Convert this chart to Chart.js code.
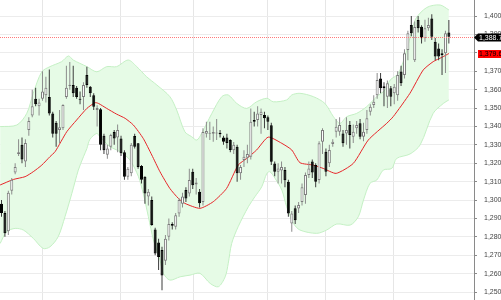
<!DOCTYPE html>
<html>
<head>
<meta charset="utf-8">
<script src="https://cdn.jsdelivr.net/npm/chart.js@4.4.1/dist/chart.umd.min.js"></script>
<style>
  html, body { margin: 0; padding: 0; background: #fff; }
</style>
</head>
<body>
<canvas id="chart" width="501" height="300"></canvas>
<script>
// daily bars, index = bar number
const opens = [
  1298, 1293, 1283, 1305, 1315, 1325, 1330, 1321, 1338, 1346,
  1355, 1351, 1355, 1357, 1356, 1347, 1342, 1338, 1339, 1356,
  1362, 1362.5, 1361, 1355, 1356, 1368, 1361.6, 1357, 1349, 1349.3,
  1335, 1324.6, 1329, 1337, 1334, 1333.5, 1326, 1312.7, 1314.5, 1334.8,
  1330.8, 1318.5, 1312.7, 1302, 1300, 1284, 1277, 1272.8, 1267, 1280,
  1287, 1285.5, 1292.7, 1298, 1305.4, 1303.6, 1315.4, 1308.5, 1304.5, 1299,
  1336, 1336, 1336, 1336.2, 1336.6, 1334, 1334, 1332.6, 1327, 1329,
  1314.5, 1321.7, 1323, 1323.5, 1343.5, 1343.5, 1346.2, 1346.2, 1345, 1340.7,
  1319.9, 1315.4, 1316, 1316.3, 1310, 1287.3, 1295.5, 1295.4, 1299, 1302.7,
  1313.6, 1321, 1319, 1310.9, 1331.7, 1326.3, 1320, 1330.4, 1337.1, 1337.1,
  1336.2, 1336.2, 1340.8, 1334.4, 1339, 1341.7, 1334.4, 1338, 1348, 1351.7,
  1357, 1366.1, 1361.9, 1356.2, 1360.7, 1358, 1357, 1369.8, 1368, 1381.5,
  1395.1, 1376, 1397.8, 1394.2, 1387.9, 1393.3, 1398.7, 1386, 1382.4, 1379.7,
  1379.7, 1391.1
];
const highs = [
  1300, 1294, 1305, 1312, 1320, 1333, 1334, 1333, 1345, 1360,
  1361, 1355, 1370, 1367, 1371, 1348, 1343, 1349, 1352, 1373,
  1375, 1373, 1362, 1359, 1364, 1372.5, 1362, 1358, 1351.5, 1350,
  1336, 1330, 1336, 1338, 1341, 1335, 1327, 1318, 1331, 1336,
  1331, 1319, 1313, 1306, 1302, 1285, 1279, 1274.6, 1281, 1290,
  1288, 1293, 1301, 1304, 1307, 1317, 1317, 1312, 1306, 1339,
  1342.5, 1342.5, 1340, 1344, 1338, 1335, 1336, 1333, 1331.5, 1330,
  1319, 1327, 1330, 1349.8, 1348, 1351, 1349.8, 1348, 1346, 1342,
  1321, 1320, 1321, 1318, 1311, 1294, 1297, 1299, 1309, 1315,
  1321, 1322, 1320, 1332, 1339, 1328, 1330, 1333, 1344, 1345,
  1338, 1345, 1343, 1341, 1343, 1344, 1342, 1349, 1352, 1357,
  1369, 1369, 1364, 1365, 1362, 1363, 1370, 1373, 1382, 1392,
  1400, 1397, 1400, 1395, 1398, 1399, 1401, 1388, 1385, 1382,
  1392, 1397.8
];
const lows = [
  1291, 1280, 1281, 1303, 1314, 1324, 1320, 1318, 1335, 1345,
  1351, 1346, 1354, 1353, 1346, 1334, 1329, 1331, 1338, 1355,
  1360, 1356, 1355, 1352, 1349, 1361, 1356, 1349, 1340, 1327,
  1325, 1322.5, 1327, 1330, 1326, 1324, 1311, 1311, 1313, 1328,
  1317, 1309, 1298, 1297, 1286, 1270, 1262, 1251, 1264.7, 1278,
  1284, 1284, 1291, 1296, 1299, 1302, 1306, 1303, 1296, 1297,
  1334, 1332.6, 1331.7, 1332.6, 1334, 1330, 1328, 1326, 1325, 1309.9,
  1311, 1318, 1320, 1322, 1340, 1340, 1336, 1339, 1338, 1319,
  1313, 1309, 1309, 1307, 1291, 1282.8, 1287, 1293, 1297, 1298,
  1312, 1312, 1307, 1309, 1325, 1313, 1318, 1329, 1334, 1335,
  1329, 1330, 1328, 1331, 1336, 1333, 1332, 1336, 1346, 1350,
  1355, 1358, 1351, 1350, 1351, 1352, 1354, 1362, 1366, 1376,
  1389, 1375, 1391, 1385, 1386, 1392, 1387, 1376, 1376, 1368,
  1369, 1385
];
const closes = [
  1293, 1282, 1304, 1311, 1318, 1326, 1322, 1331, 1343, 1351,
  1352, 1353, 1359, 1361, 1347, 1336, 1336, 1339.5, 1351.6, 1361,
  1362.6, 1358, 1356, 1354.5, 1362.5, 1362.5, 1358, 1350.7, 1350, 1330,
  1327, 1328, 1335.3, 1333.5, 1338, 1325.4, 1312.7, 1317, 1330, 1329,
  1318, 1311, 1303.6, 1304.5, 1286.5, 1271, 1269, 1259, 1279, 1287,
  1286, 1291.8, 1300, 1302, 1300.9, 1310.9, 1308.1, 1309.5, 1298.2, 1337,
  1337.5, 1336.5, 1337, 1336.4, 1335.7, 1331.7, 1331, 1327.2, 1330, 1314.5,
  1318, 1323.5, 1325, 1342.5, 1342.5, 1347, 1348, 1344.4, 1342.5, 1320.8,
  1315.4, 1317.2, 1318, 1310.8, 1292.7, 1292.7, 1289, 1297.3, 1307, 1313.6,
  1317.2, 1315, 1310, 1330.8, 1338.1, 1315.4, 1327.2, 1331.7, 1339.9, 1340.8,
  1330.8, 1338, 1335.3, 1337.1, 1340.8, 1334.4, 1337.1, 1344.4, 1350.7, 1353.4,
  1365.2, 1360.7, 1360.7, 1363.4, 1356.2, 1361.6, 1368, 1363.4, 1379.7, 1390.6,
  1390.6, 1394, 1393.3, 1387.9, 1393.3, 1395.1, 1388.8, 1378, 1378, 1378.8,
  1390.6, 1388.7
];

// moving average (red) at bar positions
const maX = [-0.4, 3.5, 6.9, 9.3, 11.8, 14.2, 15.7, 19.1, 22.0, 25.0, 27.4, 28.4, 30.8, 33.7, 36.2,
  38.6, 41.5, 44.0, 46.4, 49.3, 51.8, 53.7, 58.1, 62.0, 65.9, 69.3, 71.8, 74.7, 78.1, 82.1, 85.0,
  87.4, 91.3, 94.2, 98.0, 103.0, 107.4, 112.8, 114.7, 119.6, 123.5, 126.4, 128.9, 131];
const maY = [1308.2, 1311.2, 1312.7, 1315.4, 1319.0, 1323.6, 1326.3, 1337.1, 1343.5, 1349.8, 1352.9,
  1352.5, 1349.8, 1346.7, 1344.4, 1340.8, 1333.5, 1324.5, 1315.4, 1306.3, 1300.9, 1298.2, 1295.5,
  1299.1, 1306.3, 1319.0, 1322.6, 1327.2, 1334.2, 1330.8, 1327.2, 1320.3, 1319.0, 1317.2, 1314.5,
  1319.9, 1332.6, 1341.7, 1345.3, 1358.0, 1370.7, 1375.2, 1377.5, 1379.6];

// bollinger envelope
const upperX = [-0.4, 4.5, 7.4, 9.3, 11.8, 14.2, 17.6, 19.6, 21.0, 25.0, 27.9, 30.8, 33.7, 37.1, 39.6,
  42.5, 45.5, 49.3, 51.3, 53.7, 55.7, 57.2, 58.6, 61.6, 64.5, 66.4, 68.9, 71.8, 74.7, 77.7, 79.6,
  83.5, 85.0, 87.4, 91.3, 94.7, 97.2, 99.1, 101.1, 104.0, 106.9, 109.9, 112.3, 113.8, 116.2, 118.7,
  121.1, 124.5, 128.4, 131];
const upperY = [1339.9, 1340.8, 1347.1, 1358.0, 1369.7, 1372.5, 1375.2, 1378.3, 1376.1, 1372.5, 1369.7,
  1372.5, 1372.5, 1376.1, 1372.5, 1367.0, 1362.5, 1356.2, 1348.9, 1337.1, 1334.4, 1332.6, 1336.2,
  1347.1, 1356.2, 1357.1, 1352.5, 1349.8, 1353.4, 1355.3, 1353.4, 1354.4, 1357.1, 1358.0, 1356.2,
  1352.5, 1345.3, 1341.7, 1345.3, 1347.1, 1350.7, 1356.2, 1359.8, 1365.2, 1368.8, 1381.5, 1397.8,
  1404.6, 1406.0, 1403.3];
const lowerX = [-0.4, 1.5, 4.0, 6.4, 9.3, 12.2, 14.2, 16.6, 18.6, 20.6, 22.5, 24.0, 25.0, 25.9, 27.9,
  28.8, 31.8, 34.7, 37.6, 40.1, 41.5, 43.0, 44.5, 46.4, 47.4, 49.3, 52.3, 55.2, 58.1, 61.1, 63.5,
  65.5, 66.4, 67.4, 69.3, 72.3, 74.2, 76.2, 77.7, 78.6, 80.1, 82.1, 83.5, 85.5, 87.4, 92.3, 95.2,
  98.2, 102.1, 104.5, 106.0, 107.9, 109.9, 111.8, 114.3, 115.7, 119.6, 122.6, 126.4, 129.4, 131];
const lowerY = [1276.4, 1282.8, 1284.6, 1283.7, 1279.2, 1273.7, 1274.6, 1280.1, 1291.0, 1303.6, 1316.3,
  1323.5, 1328.0, 1333.0, 1336.2, 1334.4, 1329.0, 1326.3, 1321.8, 1312.7, 1303.6, 1291.0, 1278.3,
  1267.4, 1260.2, 1256.5, 1258.3, 1259.2, 1260.2, 1254.7, 1252.9, 1258.3, 1265.6, 1276.4, 1285.5,
  1296.4, 1301.8, 1307.2, 1314.5, 1315.4, 1311.8, 1305.4, 1296.4, 1287.3, 1283.7, 1281.9, 1283.7,
  1287.0, 1286.4, 1291.0, 1300.0, 1309.1, 1310.9, 1316.3, 1317.2, 1322.6, 1325.0, 1330.0, 1347.1,
  1352.5, 1354.4];

const priceTicks = [1250, 1260, 1270, 1280, 1290, 1300, 1310, 1320, 1330, 1340, 1350, 1360, 1370, 1380, 1390, 1400];
const monthStarts = [11.9, 34.7, 56.1, 77.8, 95.0, 114.9];
const lastClose = 1388.7;
const lastMa = 1379.6;

const fmt = v => v.toLocaleString('en-US');
const fmt1 = v => v.toLocaleString('en-US', { minimumFractionDigits: 1, maximumFractionDigits: 1 });

const up = opens.map((o, i) => closes[i] >= o);
const bodies = opens.map((o, i) => ({ x: i, y: [o, closes[i]] }));
const wicks = highs.map((h, i) => ({ x: i, y: [lows[i], h] }));
const pts = (xs, ys) => xs.map((x, i) => ({ x: x, y: ys[i] }));

// dotted last-price line and the two price tags on the axis
const lastTags = {
  id: 'lastTags',
  afterDatasetsDraw(chart) {
    const { ctx, chartArea: a, scales: { y } } = chart;
    const py = Math.round(y.getPixelForValue(lastClose));
    ctx.save();
    ctx.fillStyle = '#ff7a7a';
    for (let x = a.left; x < a.right; x += 2) {
      ctx.fillRect(x, py, 1, 1);
    }
    ctx.restore();
  },
  afterDraw(chart) {
    const { ctx, chartArea: a, scales: { y } } = chart;
    const w = chart.width;
    ctx.save();
    ctx.font = '7px "Liberation Sans", Arial, sans-serif';
    ctx.textBaseline = 'middle';

    let py = Math.round(y.getPixelForValue(lastClose));
    ctx.fillStyle = '#000';
    ctx.beginPath();
    ctx.moveTo(a.right, py + 0.5);
    ctx.lineTo(a.right + 4, py - 3.5);
    ctx.lineTo(w, py - 3.5);
    ctx.lineTo(w, py + 4.5);
    ctx.lineTo(a.right + 4, py + 4.5);
    ctx.closePath();
    ctx.fill();
    ctx.fillStyle = '#fff';
    ctx.fillText(fmt1(lastClose), a.right + 5, py + 1);

    py = Math.round(y.getPixelForValue(lastMa));
    ctx.fillStyle = '#ff0000';
    ctx.fillRect(a.right + 4, py - 4, w - a.right - 4, 8);
    ctx.fillStyle = '#000';
    ctx.fillText(fmt1(lastMa), a.right + 5, py + 0.5);
    ctx.restore();
  }
};

new Chart(document.getElementById('chart'), {
  type: 'bar',
  data: {
    datasets: [
      {
        label: 'body',
        data: bodies,
        backgroundColor: up.map(u => u ? '#ffffff' : '#000000'),
        borderColor: up.map(u => u ? '#7c7c7c' : '#000000'),
        borderWidth: 1,
        borderSkipped: false,
        barThickness: 3,
        minBarLength: 1,
        inflateAmount: 0,
        grouped: false,
        order: 0
      },
      {
        label: 'wick',
        data: wicks,
        backgroundColor: up.map(u => u ? '#8c8c8c' : '#3c3c3c'),
        borderWidth: 0,
        barThickness: 1,
        inflateAmount: 0,
        grouped: false,
        order: 1
      },
      {
        type: 'line',
        label: 'ma',
        data: pts(maX, maY),
        borderColor: '#e8262a',
        borderWidth: 1,
        pointRadius: 0,
        tension: 0.2,
        fill: false,
        order: 2
      },
      {
        type: 'line',
        label: 'upper',
        data: pts(upperX, upperY),
        borderColor: '#c4f0c4',
        backgroundColor: '#e6fbe6',
        borderWidth: 1,
        pointRadius: 0,
        tension: 0.3,
        fill: '+1',
        order: 3
      },
      {
        type: 'line',
        label: 'lower',
        data: pts(lowerX, lowerY),
        borderColor: '#c4f0c4',
        borderWidth: 1,
        pointRadius: 0,
        tension: 0.3,
        fill: false,
        order: 4
      }
    ]
  },
  options: {
    responsive: false,
    animation: false,
    layout: { padding: 0 },
    plugins: {
      legend: { display: false },
      tooltip: { enabled: false },
      filler: { drawTime: 'beforeDatasetsDraw' }
    },
    scales: {
      x: {
        type: 'linear',
        offset: false,
        min: -0.44,
        max: 138.36,
        ticks: { display: false },
        grid: { color: '#e6e6e6', drawTicks: false, offset: false },
        border: { display: false },
        afterBuildTicks: s => { s.ticks = monthStarts.map(v => ({ value: v })); },
        afterFit: s => { s.height = 0; s.paddingLeft = 0; s.paddingRight = 0; }
      },
      y: {
        position: 'right',
        min: 1245.7,
        max: 1408.7,
        afterBuildTicks: s => { s.ticks = priceTicks.map(v => ({ value: v })); },
        afterFit: s => { s.width = 27; s.paddingTop = 0; s.paddingBottom = 0; },
        ticks: {
          padding: 7,
          color: '#444',
          font: { family: '"Liberation Sans", Arial, sans-serif', size: 7 },
          callback: v => fmt(v)
        },
        grid: { color: '#ececec', tickColor: '#8a8a8a', tickLength: 3 },
        border: { display: true, color: '#8a8a8a' }
      }
    }
  },
  plugins: [lastTags]
});
</script>
</body>
</html>
